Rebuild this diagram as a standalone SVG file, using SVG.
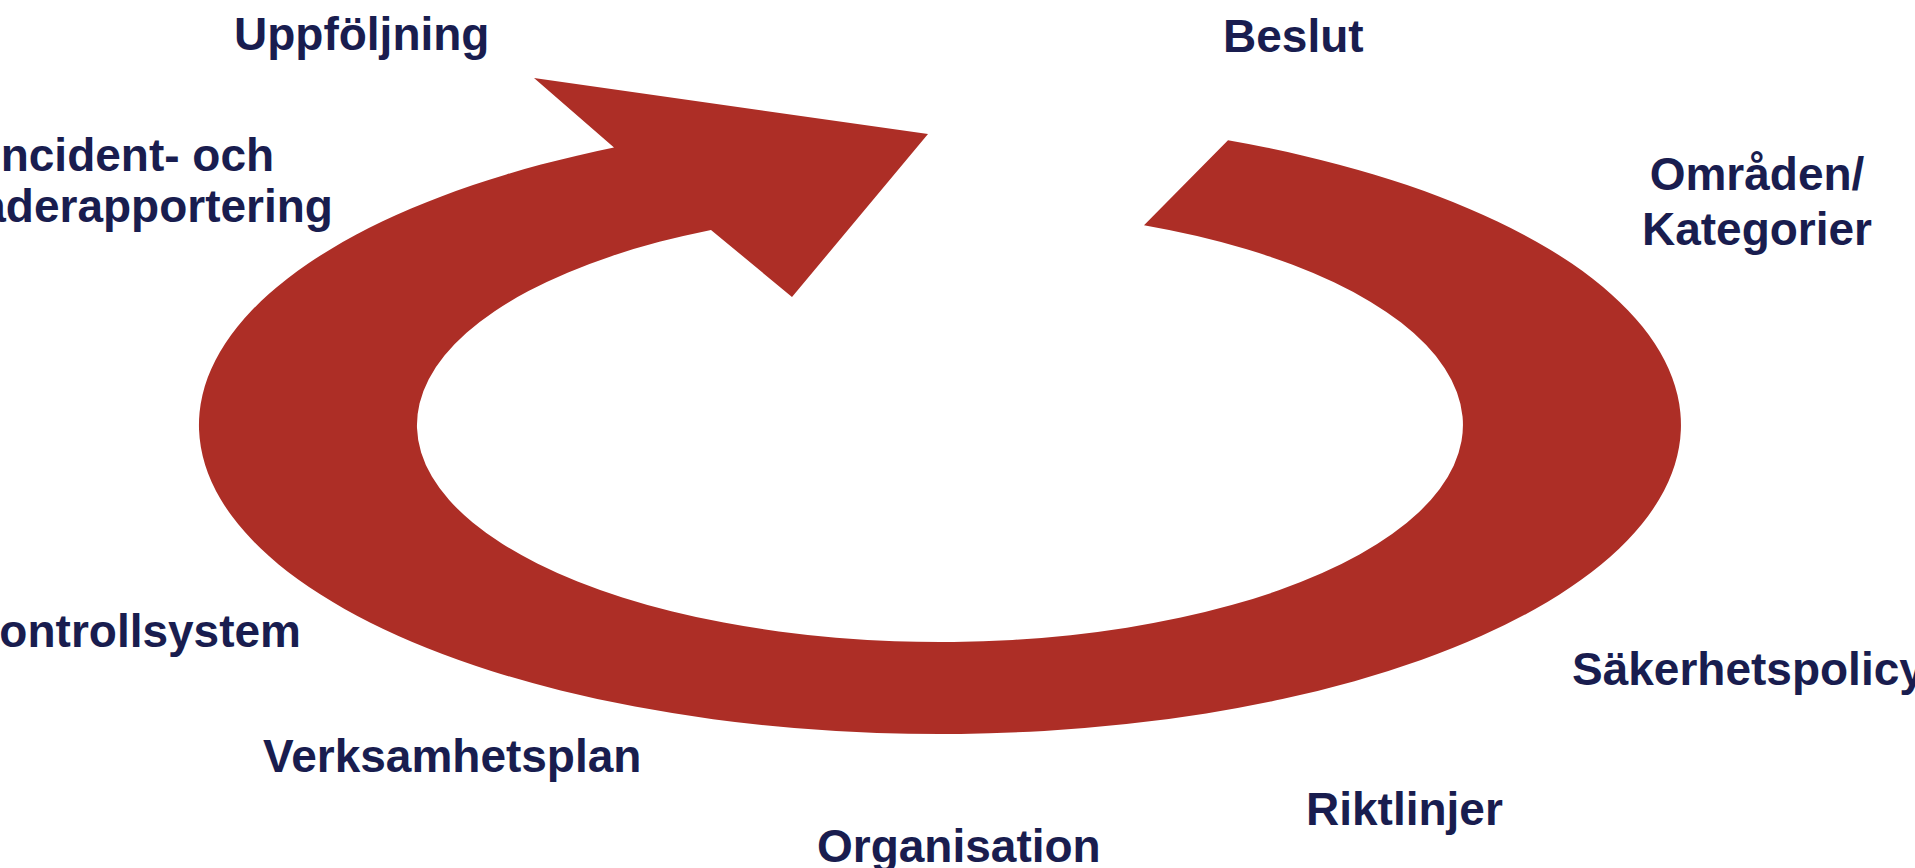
<svg xmlns="http://www.w3.org/2000/svg" width="1915" height="868" viewBox="0 0 1915 868">
<style>
.lbl{font-family:"Liberation Sans",Arial,sans-serif;font-weight:bold;font-size:46px;fill:#191D4F}
.ring{fill:#AD2E26;stroke:none}
</style>
<rect width="1915" height="868" fill="#ffffff"/>
<g id="cycle-arrow">
<path class="ring" d="M1228,140.3 A741,309 0 1 1 614,147.5 L534,78 L928,134 L792,297 L711,229.9 A523,217 0 1 0 1144,225.2 Z"/>
</g>
<g id="connectors"></g>
<g id="node-uppfoljning"><text class="lbl" x="234" y="50">Uppföljning</text></g>
<g id="node-beslut"><text class="lbl" x="1223" y="52">Beslut</text></g>
<g id="node-omraden"><text class="lbl" x="1757" y="190" text-anchor="middle">Områden/</text><text class="lbl" x="1757" y="245" text-anchor="middle">Kategorier</text></g>
<g id="node-incident"><text class="lbl" x="131" y="171" text-anchor="middle">Incident- och</text><text class="lbl" x="131" y="222" text-anchor="middle">skaderapportering</text></g>
<g id="node-kontrollsystem"><text class="lbl" x="301" y="647" text-anchor="end">Kontrollsystem</text></g>
<g id="node-verksamhetsplan"><text class="lbl" x="263" y="772">Verksamhetsplan</text></g>
<g id="node-organisation"><text class="lbl" x="817" y="862">Organisation</text></g>
<g id="node-riktlinjer"><text class="lbl" x="1306" y="825">Riktlinjer</text></g>
<g id="node-sakerhetspolicy"><text class="lbl" x="1572" y="685">Säkerhetspolicy</text></g>
</svg>
